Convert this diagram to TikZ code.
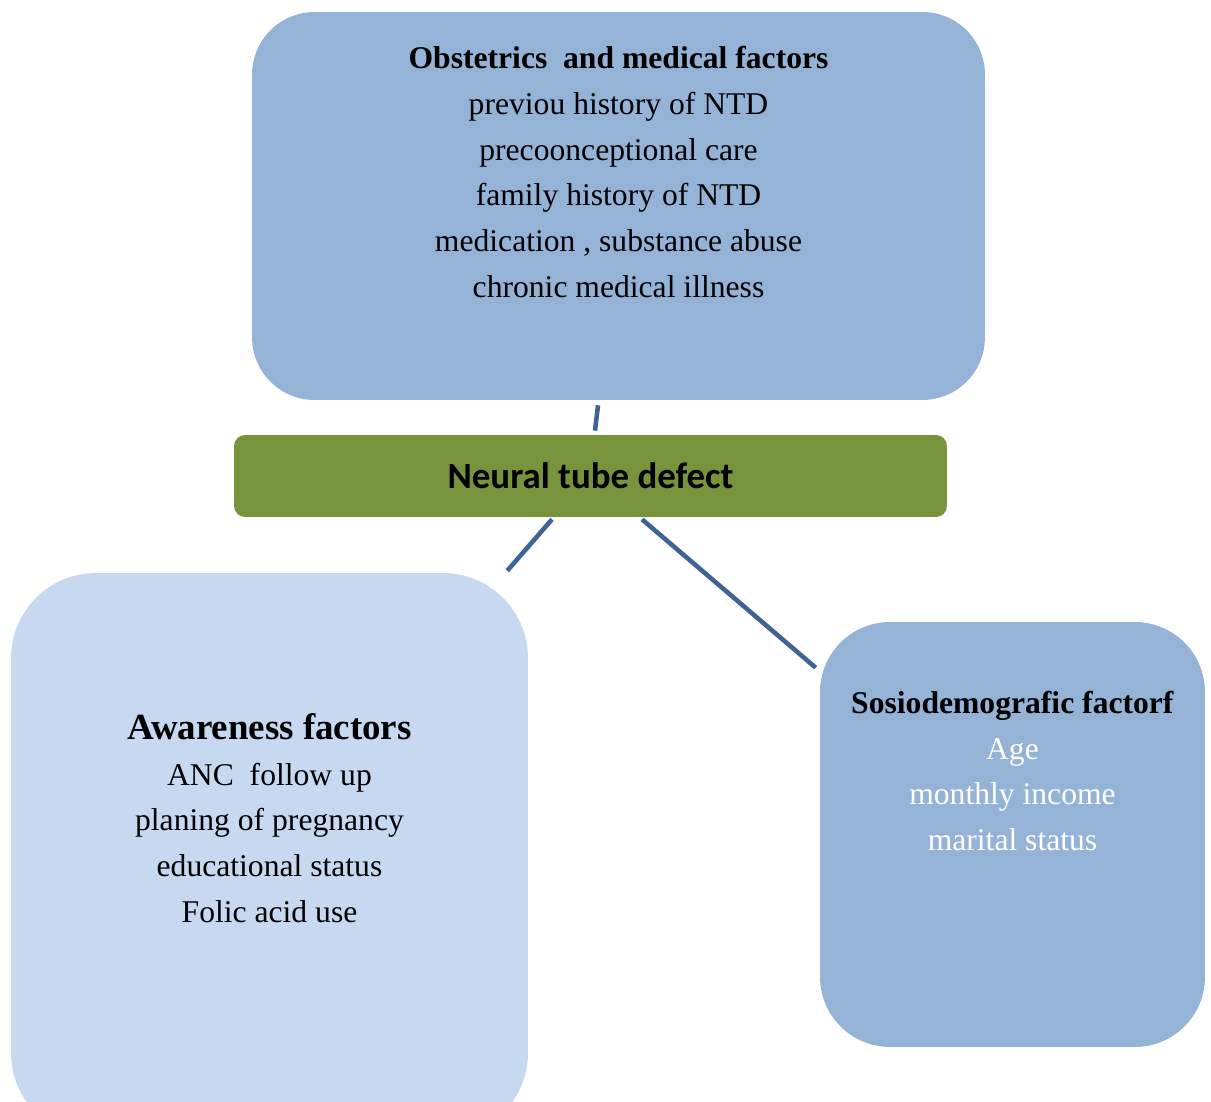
\documentclass[tikz,border=0pt]{standalone}
\usepackage{fontspec}
\setmainfont{Liberation Serif}
\newfontfamily\calfont{Carlito}
\usetikzlibrary{calc,positioning}

\definecolor{boxblue}{HTML}{95B3D7}
\definecolor{boxpale}{HTML}{C6D9F1}
\definecolor{boxgreen}{HTML}{77933C}
\definecolor{linkblue}{RGB}{64,99,150}

\begin{document}
\begin{tikzpicture}[
  x=0.02cm, y=-0.02cm,
  every node/.style={inner sep=0pt},
  factorbox/.style={rectangle,draw=none,fill=#1},
  txt/.style={align=center,font=\fontsize{18}{26}\selectfont},
  link/.style={draw=linkblue,line width=2.6pt},
]
  \useasboundingbox (0,0) rectangle (1211,1102);
  \clip (0,0) rectangle (1211,1102);
  % ============ boxes ============
  \node[factorbox=boxblue,rounded corners=1.25cm,minimum width=14.66cm,minimum height=7.76cm] (obst) at (618.5,206) {};
  \node[factorbox=boxgreen,rounded corners=0.22cm,minimum width=14.26cm,minimum height=1.64cm] (ntd) at (590.5,476) {};
  \node[factorbox=boxpale,rounded corners=1.7cm,minimum width=10.34cm,minimum height=11.3cm] (aware) at (269.5,855.5) {};
  \node[factorbox=boxblue,rounded corners=1.4cm,minimum width=7.7cm,minimum height=8.5cm] (socio) at (1012.5,834.5) {};
  % ============ texts ============
  \node[txt] (obsttxt) at (618.5,172) {\textbf{Obstetrics\ \ and medical factors}\\
    previou history of NTD\\ precoonceptional care\\ family history of NTD\\
    medication , substance abuse\\ chronic medical illness};
  \node[font=\calfont\bfseries\fontsize{21}{24}\selectfont] (ntdtxt) at (590.5,476) {Neural tube defect};
  \node[txt] (awaretxt) at (269.5,818) {{\fontsize{21}{28}\selectfont\bfseries Awareness factors}\\
    ANC\ \ follow up\\ planing of pregnancy\\ educational status\\ Folic acid use};
  \node[txt] (sociotxt) at (1012.5,771) {\textbf{Sosiodemografic factorf}\\
    \textcolor{white}{Age}\\ \textcolor{white}{monthly income}\\ \textcolor{white}{marital status}};
  % ============ connectors ============
  \coordinate (l1a) at ($(obst.south)+(-20.5,5)$);
  \coordinate (l1b) at ($(ntd.north)+(4.5,-4)$);
  \coordinate (l2a) at ($(ntd.south)+(-38.5,2)$);
  \coordinate (l2b) at ($(aware.north east)+(-21,-2)$);
  \coordinate (l3a) at ($(ntd.south)+(51.5,2)$);
  \coordinate (l3b) at ($(socio.north west)+(-4,46)$);
  \draw[link] (l1a) -- (l1b);
  \draw[link] (l2a) -- (l2b);
  \draw[link] (l3a) -- (l3b);
\end{tikzpicture}
\end{document}
